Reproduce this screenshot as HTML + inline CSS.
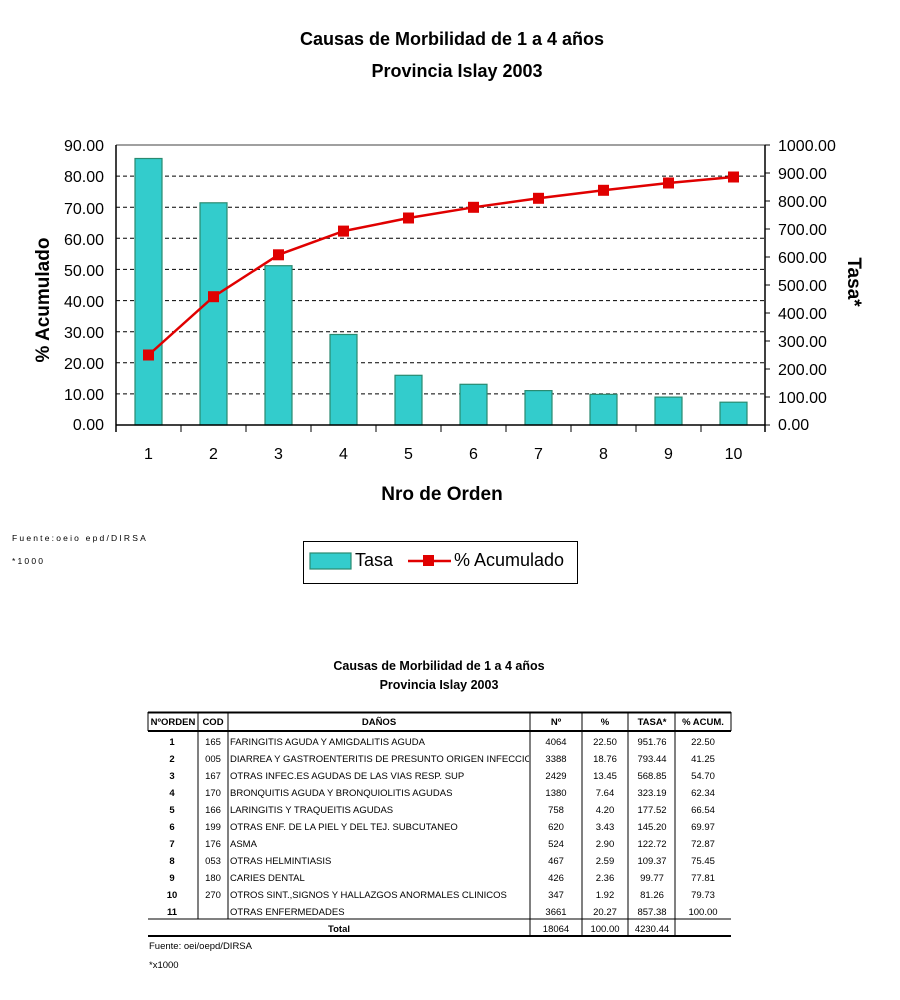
<!DOCTYPE html>
<html><head><meta charset="utf-8"><style>
html,body{margin:0;padding:0;background:#fff;}
svg{display:block;font-family:"Liberation Sans",Arial,sans-serif;}
</style></head><body>
<svg width="900" height="1000" viewBox="0 0 900 1000" xmlns="http://www.w3.org/2000/svg">
<text x="452" y="45" font-size="18" font-weight="bold" text-anchor="middle">Causas de Morbilidad de 1 a 4  años</text>
<text x="457" y="77" font-size="18" font-weight="bold" text-anchor="middle">Provincia Islay 2003</text>
<!-- gridlines -->
<g stroke="#000" stroke-width="1" stroke-dasharray="4,3">
<line x1="116" x2="765" y1="393.9" y2="393.9"/><line x1="116" x2="765" y1="362.8" y2="362.8"/>
<line x1="116" x2="765" y1="331.7" y2="331.7"/><line x1="116" x2="765" y1="300.6" y2="300.6"/>
<line x1="116" x2="765" y1="269.4" y2="269.4"/><line x1="116" x2="765" y1="238.3" y2="238.3"/>
<line x1="116" x2="765" y1="207.2" y2="207.2"/><line x1="116" x2="765" y1="176.1" y2="176.1"/>
</g>
<line x1="116" x2="765" y1="145" y2="145" stroke="#808080" stroke-width="1.5"/>
<!-- bars -->
<g fill="#33CCCC" stroke="#2a8a70" stroke-width="1.2">
<rect x="135" y="158.5" width="27" height="266.5"/>
<rect x="200" y="202.8" width="27" height="222.2"/>
<rect x="265" y="265.7" width="27" height="159.3"/>
<rect x="330" y="334.5" width="27" height="90.5"/>
<rect x="395" y="375.3" width="27" height="49.7"/>
<rect x="460" y="384.3" width="27" height="40.7"/>
<rect x="525" y="390.6" width="27" height="34.4"/>
<rect x="590" y="394.4" width="27" height="30.6"/>
<rect x="655" y="397.1" width="27" height="27.9"/>
<rect x="720" y="402.2" width="27" height="22.8"/>
</g>
<!-- axes -->
<g stroke="#000" stroke-width="1.5">
<line x1="116" y1="145" x2="116" y2="432"/>
<line x1="765" y1="145" x2="765" y2="432"/>
<line x1="116" y1="425" x2="765" y2="425"/>
</g>
<g stroke="#000" stroke-width="1">
<line x1="181" y1="425" x2="181" y2="432"/><line x1="246" y1="425" x2="246" y2="432"/>
<line x1="311" y1="425" x2="311" y2="432"/><line x1="376" y1="425" x2="376" y2="432"/>
<line x1="441" y1="425" x2="441" y2="432"/><line x1="506" y1="425" x2="506" y2="432"/>
<line x1="571" y1="425" x2="571" y2="432"/><line x1="636" y1="425" x2="636" y2="432"/>
<line x1="701" y1="425" x2="701" y2="432"/>
<line x1="765" y1="145" x2="770" y2="145"/><line x1="765" y1="173" x2="770" y2="173"/>
<line x1="765" y1="201" x2="770" y2="201"/><line x1="765" y1="229" x2="770" y2="229"/>
<line x1="765" y1="257" x2="770" y2="257"/><line x1="765" y1="285" x2="770" y2="285"/>
<line x1="765" y1="313" x2="770" y2="313"/><line x1="765" y1="341" x2="770" y2="341"/>
<line x1="765" y1="369" x2="770" y2="369"/><line x1="765" y1="397" x2="770" y2="397"/>
<line x1="765" y1="425" x2="770" y2="425"/>
</g>
<!-- line series -->
<polyline fill="none" stroke="#E00000" stroke-width="2.5" points="148.5,355 213.5,296.7 278.5,254.8 343.5,231.1 408.5,218 473.5,207.3 538.5,198.3 603.5,190.3 668.5,183 733.5,177"/>
<g fill="#E00000">
<rect x="143" y="349.5" width="11" height="11"/><rect x="208" y="291.2" width="11" height="11"/>
<rect x="273" y="249.3" width="11" height="11"/><rect x="338" y="225.6" width="11" height="11"/>
<rect x="403" y="212.5" width="11" height="11"/><rect x="468" y="201.8" width="11" height="11"/>
<rect x="533" y="192.8" width="11" height="11"/><rect x="598" y="184.8" width="11" height="11"/>
<rect x="663" y="177.5" width="11" height="11"/><rect x="728" y="171.5" width="11" height="11"/>
</g>
<!-- left tick labels -->
<g font-size="16" text-anchor="end">
<text x="104" y="151">90.00</text><text x="104" y="182">80.00</text><text x="104" y="214">70.00</text>
<text x="104" y="245">60.00</text><text x="104" y="276">50.00</text><text x="104" y="307">40.00</text>
<text x="104" y="338">30.00</text><text x="104" y="369">20.00</text><text x="104" y="400">10.00</text>
<text x="104" y="430">0.00</text>
</g>
<g font-size="16" text-anchor="start">
<text x="778" y="151">1000.00</text><text x="778" y="179">900.00</text><text x="778" y="207">800.00</text>
<text x="778" y="235">700.00</text><text x="778" y="263">600.00</text><text x="778" y="291">500.00</text>
<text x="778" y="319">400.00</text><text x="778" y="347">300.00</text><text x="778" y="375">200.00</text>
<text x="778" y="403">100.00</text><text x="778" y="430">0.00</text>
</g>
<g font-size="16" text-anchor="middle">
<text x="148.5" y="459">1</text><text x="213.5" y="459">2</text><text x="278.5" y="459">3</text>
<text x="343.5" y="459">4</text><text x="408.5" y="459">5</text><text x="473.5" y="459">6</text>
<text x="538.5" y="459">7</text><text x="603.5" y="459">8</text><text x="668.5" y="459">9</text>
<text x="733.5" y="459">10</text>
</g>
<text x="442" y="500" font-size="19" font-weight="bold" text-anchor="middle">Nro de Orden</text>
<text transform="translate(49,300) rotate(-90)" font-size="19" font-weight="bold" text-anchor="middle">% Acumulado</text>
<text transform="translate(848,282) rotate(90)" font-size="19" font-weight="bold" text-anchor="middle">Tasa*</text>
<text x="12" y="541" font-size="8.5" letter-spacing="2.2">Fuente:oeio epd/DIRSA</text>
<text x="12" y="564" font-size="8.5" letter-spacing="2.2">*1000</text>
<!-- legend -->
<rect x="303.5" y="541.5" width="274" height="42" fill="#fff" stroke="#000" stroke-width="1"/>
<rect x="310" y="553" width="41" height="16" fill="#33CCCC" stroke="#2a8a70" stroke-width="1.2"/>
<text x="355" y="566" font-size="18">Tasa</text>
<line x1="408" y1="561" x2="451" y2="561" stroke="#E00000" stroke-width="2.5"/>
<rect x="423" y="555" width="11" height="11" fill="#E00000"/>
<text x="454" y="566" font-size="18">% Acumulado</text>
<!-- table -->
<text x="439" y="670" font-size="12.5" font-weight="bold" text-anchor="middle">Causas de Morbilidad de 1 a 4 años</text>
<text x="439" y="689" font-size="12.5" font-weight="bold" text-anchor="middle">Provincia Islay 2003</text>
<g stroke="#000">
<line x1="148" x2="731" y1="712.5" y2="712.5" stroke-width="2"/>
<line x1="148" x2="731" y1="731" y2="731" stroke-width="2"/>
<line x1="148" x2="731" y1="919" y2="919" stroke-width="1"/>
<line x1="148" x2="731" y1="936" y2="936" stroke-width="2"/>
<g stroke-width="1">
<line x1="198" x2="198" y1="712" y2="919"/><line x1="228" x2="228" y1="712" y2="919"/>
<line x1="148" x2="148" y1="712" y2="731"/>
<line x1="530" x2="530" y1="712" y2="936"/><line x1="582" x2="582" y1="712" y2="936"/>
<line x1="628" x2="628" y1="712" y2="936"/><line x1="675" x2="675" y1="712" y2="936"/>
<line x1="731" x2="731" y1="712" y2="731"/>
</g></g>
<g font-size="9.5" font-weight="bold" text-anchor="middle">
<text x="173" y="725">NºORDEN</text><text x="213" y="725">COD</text><text x="379" y="725">DAÑOS</text>
<text x="556" y="725">Nº</text><text x="605" y="725">%</text><text x="652" y="725">TASA*</text><text x="703" y="725">% ACUM.</text>
<text x="172" y="745">1</text><text x="172" y="762">2</text><text x="172" y="779">3</text><text x="172" y="796">4</text>
<text x="172" y="813">5</text><text x="172" y="830">6</text><text x="172" y="847">7</text><text x="172" y="864">8</text>
<text x="172" y="881">9</text><text x="172" y="898">10</text><text x="172" y="915">11</text>
<text x="339" y="932">Total</text>
</g>
<g font-size="9.5" text-anchor="middle">
<text x="213" y="745">165</text><text x="213" y="762">005</text><text x="213" y="779">167</text><text x="213" y="796">170</text>
<text x="213" y="813">166</text><text x="213" y="830">199</text><text x="213" y="847">176</text><text x="213" y="864">053</text>
<text x="213" y="881">180</text><text x="213" y="898">270</text>
</g>
<svg x="229" y="733" width="300" height="190">
<g font-size="9.5">
<text x="1" y="12">FARINGITIS AGUDA Y AMIGDALITIS AGUDA</text>
<text x="1" y="29">DIARREA Y GASTROENTERITIS DE PRESUNTO ORIGEN INFECCIOSO</text>
<text x="1" y="46">OTRAS INFEC.ES AGUDAS DE LAS VIAS RESP. SUP</text>
<text x="1" y="63">BRONQUITIS AGUDA Y BRONQUIOLITIS AGUDAS</text>
<text x="1" y="80">LARINGITIS Y TRAQUEITIS AGUDAS</text>
<text x="1" y="97">OTRAS ENF. DE LA PIEL Y DEL TEJ. SUBCUTANEO</text>
<text x="1" y="114">ASMA</text>
<text x="1" y="131">OTRAS HELMINTIASIS</text>
<text x="1" y="148">CARIES DENTAL</text>
<text x="1" y="165">OTROS SINT.,SIGNOS Y HALLAZGOS ANORMALES CLINICOS</text>
<text x="1" y="182">OTRAS ENFERMEDADES</text>
</g></svg>
<g font-size="9.5" text-anchor="middle">
<text x="556" y="745">4064</text><text x="605" y="745">22.50</text><text x="652" y="745">951.76</text><text x="703" y="745">22.50</text>
<text x="556" y="762">3388</text><text x="605" y="762">18.76</text><text x="652" y="762">793.44</text><text x="703" y="762">41.25</text>
<text x="556" y="779">2429</text><text x="605" y="779">13.45</text><text x="652" y="779">568.85</text><text x="703" y="779">54.70</text>
<text x="556" y="796">1380</text><text x="605" y="796">7.64</text><text x="652" y="796">323.19</text><text x="703" y="796">62.34</text>
<text x="556" y="813">758</text><text x="605" y="813">4.20</text><text x="652" y="813">177.52</text><text x="703" y="813">66.54</text>
<text x="556" y="830">620</text><text x="605" y="830">3.43</text><text x="652" y="830">145.20</text><text x="703" y="830">69.97</text>
<text x="556" y="847">524</text><text x="605" y="847">2.90</text><text x="652" y="847">122.72</text><text x="703" y="847">72.87</text>
<text x="556" y="864">467</text><text x="605" y="864">2.59</text><text x="652" y="864">109.37</text><text x="703" y="864">75.45</text>
<text x="556" y="881">426</text><text x="605" y="881">2.36</text><text x="652" y="881">99.77</text><text x="703" y="881">77.81</text>
<text x="556" y="898">347</text><text x="605" y="898">1.92</text><text x="652" y="898">81.26</text><text x="703" y="898">79.73</text>
<text x="556" y="915">3661</text><text x="605" y="915">20.27</text><text x="652" y="915">857.38</text><text x="703" y="915">100.00</text>
<text x="556" y="932">18064</text><text x="605" y="932">100.00</text><text x="652" y="932">4230.44</text>
</g>
<text x="149" y="949" font-size="9.5">Fuente: oei/oepd/DIRSA</text>
<text x="149" y="968" font-size="9.5">*x1000</text>
</svg>
</body></html>
